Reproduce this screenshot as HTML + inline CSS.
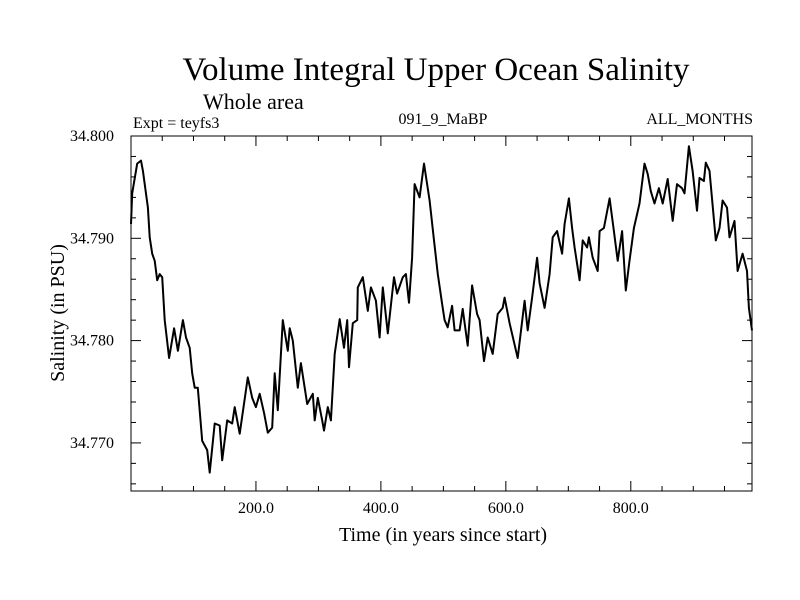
<!DOCTYPE html>
<html><head><meta charset="utf-8"><style>
body{margin:0;background:#fff}
svg{display:block;font-family:"Liberation Serif",serif}
</style></head><body>
<svg id="chart" width="800" height="600">
<text x="436" y="80" font-size="33" text-anchor="middle">Volume Integral Upper Ocean Salinity</text>
<text x="203" y="109" font-size="22">Whole area</text>
<text x="133" y="128" font-size="16">Expt = teyfs3</text>
<text x="443" y="124" font-size="16" text-anchor="middle">091_9_MaBP</text>
<text x="753" y="124" font-size="16" text-anchor="end">ALL_MONTHS</text>
<text x="443" y="541" font-size="20" text-anchor="middle">Time (in years since start)</text>
<text transform="translate(64,313) rotate(-90)" font-size="20" text-anchor="middle">Salinity (in PSU)</text>
<g id="axes"></g>
<path id="line" fill="none" stroke="#000" stroke-width="2" stroke-linejoin="round"></path>
<rect x="131" y="136" width="621" height="355" fill="none" stroke="#000" stroke-width="1"></rect>
</svg>
<script>
const years=[0,2,10,16,19,27,30,34,38,42,46,50,54,61,69,75,83,88,94,98,102,107,114,122,126,134,142,146,154,162,166,174,187,194,200,206,213,219,226,230,235,243,251,254,259,267,272,282,291,294,299,306,309,315,320,326,334,341,346,349,355,362,363,371,379,384,392,398,403,411,421,426,435,440,445,450,454,462,469,478,485,491,498,502,507,514,518,526,531,539,546,554,558,565,571,579,587,595,598,606,619,630,635,642,650,654,662,670,675,682,690,694,701,706,710,718,723,730,733,739,747,750,757,766,773,779,786,792,798,805,814,822,827,832,838,845,851,859,867,874,882,886,893,899,906,910,917,920,926,936,942,947,954,958,966,971,979,986,989,994];
const salinity=[34.7914,34.7944,34.7973,34.7976,34.7966,34.7930,34.7901,34.7885,34.7878,34.7859,34.7865,34.7862,34.7820,34.7783,34.7812,34.7790,34.7820,34.7803,34.7793,34.7768,34.7754,34.7754,34.7702,34.7693,34.7671,34.7719,34.7717,34.7683,34.7722,34.7719,34.7735,34.7709,34.7764,34.7744,34.7735,34.7748,34.7729,34.7710,34.7715,34.7768,34.7732,34.7820,34.7790,34.7812,34.7800,34.7754,34.7778,34.7738,34.7748,34.7722,34.7744,34.7722,34.7712,34.7735,34.7722,34.7787,34.7821,34.7793,34.7820,34.7774,34.7817,34.7820,34.7852,34.7862,34.7829,34.7852,34.7839,34.7803,34.7852,34.7807,34.7862,34.7846,34.7862,34.7865,34.7837,34.7881,34.7953,34.7940,34.7973,34.7937,34.7898,34.7865,34.7836,34.7820,34.7813,34.7834,34.7810,34.7810,34.7831,34.7795,34.7854,34.7826,34.7820,34.7780,34.7803,34.7787,34.7826,34.7832,34.7842,34.7817,34.7783,34.7839,34.7810,34.7842,34.7881,34.7856,34.7832,34.7865,34.7901,34.7907,34.7885,34.7914,34.7939,34.7910,34.7891,34.7859,34.7898,34.7891,34.7901,34.7881,34.7868,34.7907,34.7910,34.7939,34.7907,34.7878,34.7907,34.7849,34.7878,34.7910,34.7934,34.7973,34.7963,34.7946,34.7934,34.7949,34.7934,34.7958,34.7917,34.7953,34.7949,34.7944,34.7990,34.7966,34.7927,34.7959,34.7956,34.7974,34.7966,34.7898,34.7910,34.7937,34.7930,34.7901,34.7917,34.7868,34.7885,34.7868,34.7832,34.7810];
const xTicks=[200,400,600,800];
const xTickLabels=["200.0","400.0","600.0","800.0"];
const yTicks=[34.770,34.780,34.790,34.800];
const yTickLabels=["34.770","34.780","34.790","34.800"];
const X0=131,X1=752,Y0=491,Y1=136,xMin=0,xMax=994,yMin=34.7653,yMax=34.8000;
const sx=v=>X0+(v-xMin)/(xMax-xMin)*(X1-X0);
const sy=v=>Y0-(v-yMin)/(yMax-yMin)*(Y0-Y1);
const NS="http://www.w3.org/2000/svg";
const ax=document.getElementById('axes');
function ln(x1,y1,x2,y2){const l=document.createElementNS(NS,'line');l.setAttribute('x1',x1);l.setAttribute('y1',y1);l.setAttribute('x2',x2);l.setAttribute('y2',y2);l.setAttribute('stroke','#000');


ax.appendChild(l);}
for(let v=50;v<xMax;v+=50){const x=sx(v);const L=(v%200===0)?10:5;ln(x,Y0,x,Y0-L);ln(x,Y1,x,Y1+L);}
for(let k=0;k<=20;k++){const v=34.766+k*0.002;if(v>yMax+1e-6)break;const y=sy(v);const major=Math.abs((v*1000)%10)<0.01||Math.abs((v*1000)%10-10)<0.01;const L=major?10:5;ln(X0,y,X0+L,y);ln(X1,y,X1-L,y);}
xTicks.forEach((v,i)=>{const t=document.createElementNS(NS,'text');t.setAttribute('x',sx(v));t.setAttribute('y',513);t.setAttribute('font-size','16');t.setAttribute('text-anchor','middle');t.textContent=xTickLabels[i];


ax.appendChild(t);});
yTicks.forEach((v,i)=>{const t=document.createElementNS(NS,'text');t.setAttribute('x',114);t.setAttribute('y',sy(v)+5);t.setAttribute('font-size','16');t.setAttribute('text-anchor','end');t.textContent=yTickLabels[i];


ax.appendChild(t);});
document.getElementById('line').setAttribute('d',years.map((y,i)=>(i?'L':'M')+sx(y).toFixed(1)+','+sy(salinity[i]).toFixed(1)).join(''));
</script>
</body></html>
